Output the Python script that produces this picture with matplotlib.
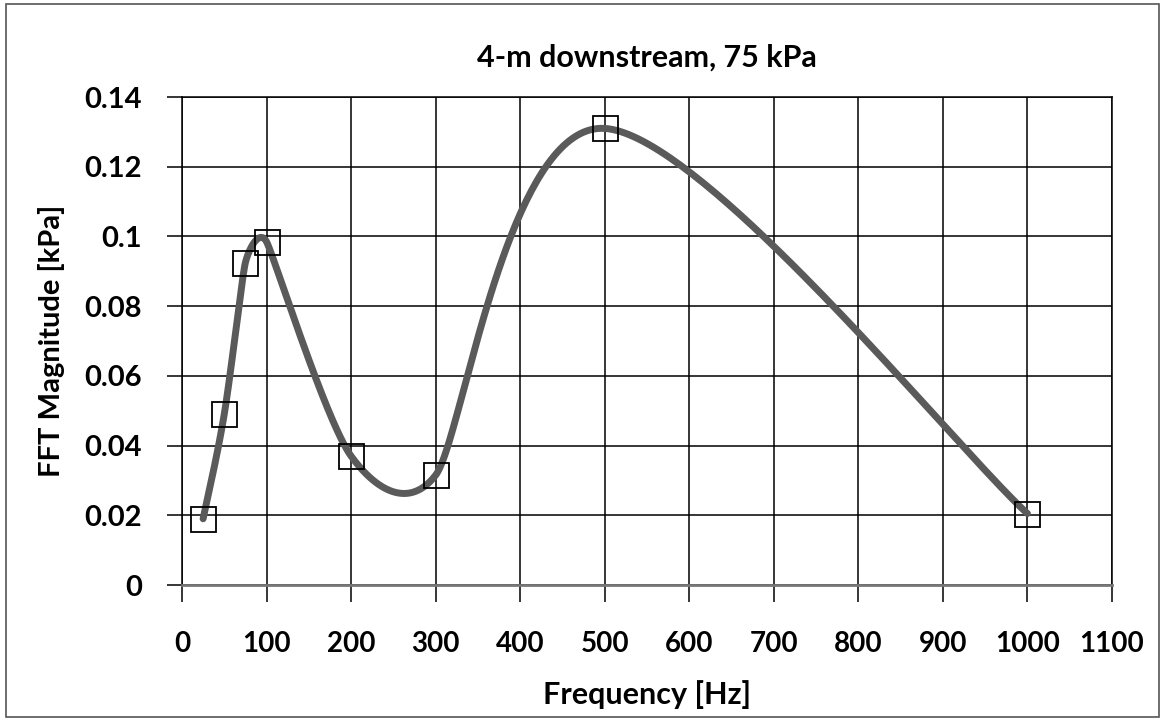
import matplotlib
matplotlib.use("Agg")
import matplotlib.pyplot as plt
import numpy as np
from matplotlib.patches import Rectangle

# FFT magnitude, 4 m downstream at 75 kPa
freq = [25, 50, 75, 100, 200, 300, 500, 1000]
mag = [0.019, 0.049, 0.0925, 0.0985, 0.037, 0.0315, 0.131, 0.0205]

xticks = [0, 100, 200, 300, 400, 500, 600, 700, 800, 900, 1000, 1100]
yticks = [0, 0.02, 0.04, 0.06, 0.08, 0.1, 0.12, 0.14]
ytick_labels = ["0", "0.02", "0.04", "0.06", "0.08", "0.1", "0.12", "0.14"]


def smooth_line(px, py, n=80):
    # excel style smoothed line, worked out in screen pixels:
    # bezier segments, catmull-rom arms capped at half the shorter neighbour segment
    px = np.asarray(px, float)
    py = np.asarray(py, float)
    P = np.column_stack([px, py])
    m = len(P)
    arms = []
    for i in range(m):
        a = P[max(i - 1, 0)]
        b = P[min(i + 1, m - 1)]
        d = b - a
        d02 = np.hypot(*d)
        segs = []
        if i > 0:
            segs.append(np.hypot(*(P[i] - P[i - 1])))
        if i < m - 1:
            segs.append(np.hypot(*(P[i + 1] - P[i])))
        f = 1 / 6
        if d02 > 0:
            f = min(f, 0.5 * min(segs) / d02)
        arms.append(d * f)
    t = np.linspace(0, 1, n)[:, None]
    out = []
    for i in range(m - 1):
        p0, p3 = P[i], P[i + 1]
        p1 = p0 + arms[i]
        p2 = p3 - arms[i + 1]
        out.append((1 - t) ** 3 * p0 + 3 * (1 - t) ** 2 * t * p1 + 3 * (1 - t) * t ** 2 * p2 + t ** 3 * p3)
    out = np.vstack(out)
    return out[:, 0], out[:, 1]


plt.rcParams['font.family'] = ['Lato', 'DejaVu Sans']

fig = plt.figure(figsize=(11.65, 7.21), dpi=100)
ax = fig.add_axes([0.1562, 0.1886, 0.7983, 0.6768])

ax.set_xlim(0, 1100)
ax.set_ylim(0, 0.14)

# smooth in pixel space, then back to data
pix = ax.transData.transform(np.column_stack([freq, mag]))
sx, sy = smooth_line(pix[:, 0], pix[:, 1])
curve = ax.transData.inverted().transform(np.column_stack([sx, sy]))
ax.plot(curve[:, 0], curve[:, 1], color='#5a5a5a', lw=5, solid_capstyle='round', zorder=3)
ax.plot(freq, mag, ls='none', marker='s', ms=18, mfc='none', mec='black', mew=1.3, zorder=4)

ax.set_xticks(xticks)
ax.set_yticks(yticks)
ax.set_yticklabels(ytick_labels)
ax.grid(True, color='black', lw=1.1)
ax.set_axisbelow(True)
for s in ax.spines.values():
    s.set_color('black')
    s.set_linewidth(1.1)
ax.spines['bottom'].set_color('#777777')
ax.spines['bottom'].set_linewidth(2)

ax.tick_params(axis='x', direction='out', length=12, width=1.1, pad=21, labelsize=20)
ax.tick_params(axis='y', direction='out', length=11, width=1.1, pad=18, labelsize=21)
for lab in ax.get_xticklabels() + ax.get_yticklabels():
    lab.set_fontweight('bold')

ax.set_title('4-m downstream, 75 kPa', fontsize=22, fontweight='bold', pad=22)
ax.set_xlabel('Frequency [Hz]', fontsize=22, fontweight='bold', labelpad=17)
ax.set_ylabel('FFT Magnitude [kPa]', fontsize=21, fontweight='bold', labelpad=14)

fig.patches.append(Rectangle((0.005, 0.006), 0.99, 0.988, transform=fig.transFigure,
                             fill=False, ec='#555555', lw=1.2))

plt.savefig('out.png', dpi=100)
